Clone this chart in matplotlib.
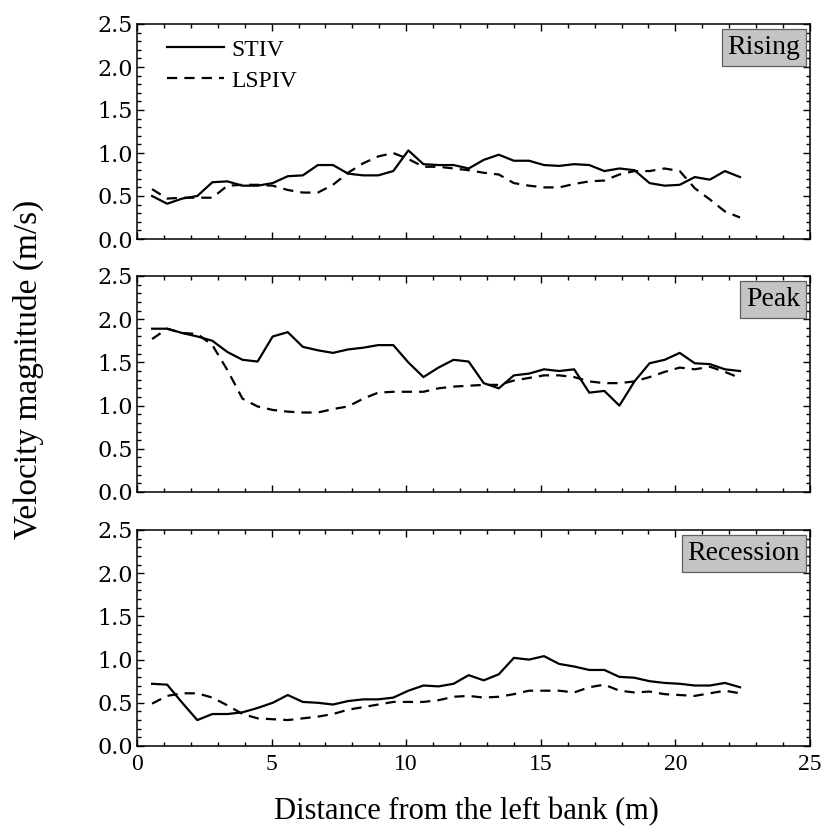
import numpy as np
import matplotlib
matplotlib.use("Agg")
import matplotlib.pyplot as plt
from matplotlib.ticker import MultipleLocator

# Distance from the left bank (m)
distance = [round(0.56 * i, 2) for i in range(1, 41)]

rising_stiv = [0.50, 0.41, 0.47, 0.50, 0.66, 0.67, 0.62, 0.62, 0.65, 0.73,
               0.74, 0.86, 0.86, 0.76, 0.74, 0.74, 0.79, 1.03, 0.87, 0.86,
               0.86, 0.82, 0.92, 0.98, 0.91, 0.91, 0.86, 0.85, 0.87, 0.86,
               0.79, 0.82, 0.80, 0.65, 0.62, 0.63, 0.72, 0.69, 0.79, 0.72]
rising_lspiv = [0.58, 0.47, 0.48, 0.48, 0.48, 0.62, 0.63, 0.63, 0.62, 0.57,
                0.54, 0.54, 0.63, 0.77, 0.88, 0.96, 1.00, 0.93, 0.84, 0.84,
                0.82, 0.80, 0.77, 0.75, 0.65, 0.62, 0.60, 0.60, 0.64, 0.67,
                0.68, 0.75, 0.79, 0.79, 0.82, 0.79, 0.59, 0.46, 0.32, 0.25]

peak_stiv = [1.89, 1.89, 1.84, 1.80, 1.75, 1.62, 1.53, 1.51, 1.80, 1.85,
             1.68, 1.64, 1.61, 1.65, 1.67, 1.70, 1.70, 1.50, 1.33, 1.44,
             1.53, 1.51, 1.26, 1.20, 1.35, 1.37, 1.42, 1.40, 1.42, 1.15,
             1.17, 1.00, 1.28, 1.49, 1.53, 1.61, 1.49, 1.48, 1.42, 1.40]
peak_lspiv = [1.77, 1.89, 1.84, 1.83, 1.70, 1.41, 1.08, 0.99, 0.95, 0.93,
              0.92, 0.92, 0.96, 0.99, 1.08, 1.15, 1.16, 1.16, 1.16, 1.20,
              1.22, 1.23, 1.24, 1.24, 1.29, 1.32, 1.35, 1.35, 1.33, 1.28,
              1.26, 1.26, 1.28, 1.33, 1.39, 1.44, 1.42, 1.45, 1.39, 1.32]

recession_stiv = [0.72, 0.71, 0.50, 0.30, 0.37, 0.37, 0.39, 0.44, 0.50, 0.59,
                  0.51, 0.50, 0.48, 0.52, 0.54, 0.54, 0.56, 0.64, 0.70, 0.69,
                  0.72, 0.82, 0.76, 0.83, 1.02, 1.00, 1.04, 0.95, 0.92, 0.88,
                  0.88, 0.80, 0.79, 0.75, 0.73, 0.72, 0.70, 0.70, 0.73, 0.68]
recession_lspiv = [0.49, 0.58, 0.61, 0.61, 0.56, 0.47, 0.37, 0.32, 0.31, 0.30,
                   0.32, 0.34, 0.37, 0.42, 0.45, 0.48, 0.51, 0.51, 0.51, 0.53,
                   0.57, 0.58, 0.56, 0.57, 0.60, 0.64, 0.64, 0.64, 0.62, 0.68,
                   0.71, 0.64, 0.62, 0.63, 0.60, 0.59, 0.58, 0.61, 0.64, 0.61]

panel_labels = ["Rising", "Peak", "Recession"]
series_labels = ["STIV", "LSPIV"]
x_ticks = [0, 5, 10, 15, 20, 25]
y_ticks = [0.0, 0.5, 1.0, 1.5, 2.0, 2.5]

SERIF = ["Liberation Serif", "DejaVu Serif"]
plt.rcParams["font.family"] = SERIF

W, H = 823, 832
fig = plt.figure(figsize=(W / 100, H / 100), dpi=100)

left, right = 137, 810
panels_px = [(24, 239), (276, 492), (530, 746)]
data = [(rising_stiv, rising_lspiv), (peak_stiv, peak_lspiv),
        (recession_stiv, recession_lspiv)]

dash = (0, (4.6, 3.2))
for k, ((top, bot), (s, l), lab) in enumerate(zip(panels_px, data, panel_labels)):
    hpx = bot - top
    ax = fig.add_axes([left / W, 1 - bot / H, (right - left) / W, hpx / H])
    ax.plot(distance, s, color="black", lw=1.6, label=series_labels[0])
    ax.plot(distance, l, color="black", lw=1.6, linestyle=dash, label=series_labels[1])
    ax.set_xlim(0, 25)
    ax.set_ylim(0, 2.5)
    ax.set_xticks(x_ticks)
    ax.set_yticks(y_ticks)
    ax.xaxis.set_minor_locator(MultipleLocator(1))
    ax.yaxis.set_minor_locator(MultipleLocator(0.1))
    ax.tick_params(which="both", direction="in", top=True, right=True, width=1.0)
    ax.tick_params(which="major", length=5)
    ax.tick_params(which="minor", length=3)
    ax.tick_params(axis="y", pad=3)
    ax.tick_params(axis="x", pad=6)
    for sp in ax.spines.values():
        sp.set_linewidth(1.1)
    ax.set_yticklabels([f"{v:.1f}" for v in y_ticks], fontfamily="DejaVu Serif",
                       fontsize=16)
    if k == 2:
        ax.set_xticklabels([str(v) for v in x_ticks], fontsize=17)
    else:
        ax.set_xticklabels([])
    ax.text(1 - 10 / (right - left), 1 - 11 / hpx, lab, transform=ax.transAxes,
            ha="right", va="top", fontsize=20,
            bbox=dict(boxstyle="square,pad=0.2", fc="#c4c4c4", ec="#606060", lw=0.9))
    if k == 0:
        ax.legend(loc="upper left", bbox_to_anchor=(0.045, 0.93), frameon=False,
                  fontsize=17, handlelength=2.4, handletextpad=0.3,
                  borderaxespad=0, borderpad=0, labelspacing=0.4)

fig.text(466 / W, 1 - 812 / H, "Distance from the left bank (m)", ha="center",
         va="center", fontsize=22)
fig.text(28 / W, 1 - 369 / H, "Velocity magnitude (m/s)", ha="center",
         va="center", rotation=90, fontsize=24)

fig.savefig("out.png", dpi=100)
